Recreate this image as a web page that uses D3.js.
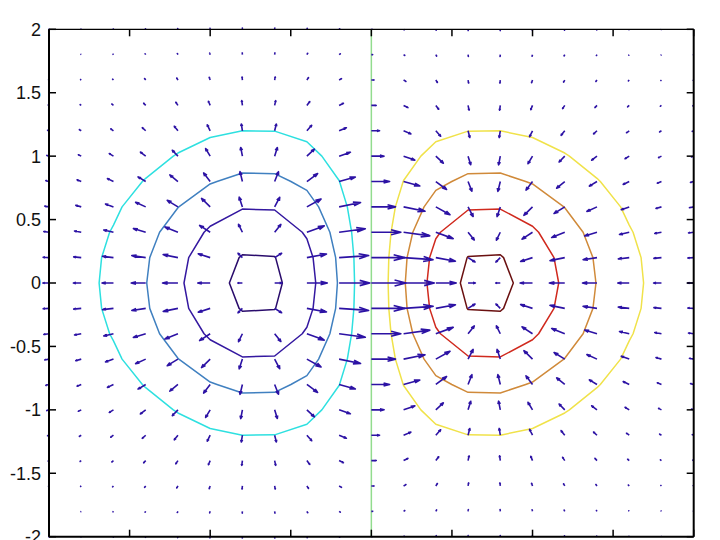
<!DOCTYPE html>
<html><head><meta charset="utf-8">
<script src="https://cdn.jsdelivr.net/npm/d3@7"></script>
<style>html,body{margin:0;padding:0;background:#fff;} svg{display:block}</style>
</head><body><svg id="c" width="720" height="540"></svg>
<script>
// grid coordinates
const gridX = [-2,-1.8,-1.6,-1.4,-1.2,-1,-0.8,-0.6,-0.4,-0.2,0,0.2,0.4,0.6,0.8,1,1.2,1.4,1.6,1.8,2];
const gridY = [-2,-1.8,-1.6,-1.4,-1.2,-1,-0.8,-0.6,-0.4,-0.2,0,0.2,0.4,0.6,0.8,1,1.2,1.4,1.6,1.8,2];
// surface values, one row per gridY value (bottom to top)
const zRows = [
[-.0007,-.0013,-.0023,-.0036,-.0052,-.0067,-.0077,-.0077,-.0062,-.0035,0,.0035,.0062,.0077,.0077,.0067,.0052,.0036,.0023,.0013,.0007],
[-.0014,-.0028,-.0048,-.0077,-.0111,-.0144,-.0165,-.0164,-.0133,-.0075,0,.0075,.0133,.0164,.0165,.0144,.0111,.0077,.0048,.0028,.0014],
[-.0028,-.0054,-.0096,-.0152,-.0220,-.0284,-.0326,-.0324,-.0263,-.0149,0,.0149,.0263,.0324,.0326,.0284,.0220,.0152,.0096,.0054,.0028],
[-.0052,-.0099,-.0174,-.0278,-.0400,-.0518,-.0594,-.0590,-.0480,-.0271,0,.0271,.0480,.0590,.0594,.0518,.0400,.0278,.0174,.0099,.0052],
[-.0087,-.0167,-.0293,-.0467,-.0674,-.0872,-.0999,-.0992,-.0808,-.0455,0,.0455,.0808,.0992,.0999,.0872,.0674,.0467,.0293,.0167,.0087],
[-.0135,-.0259,-.0455,-.0725,-.1046,-.1353,-.1552,-.1540,-.1254,-.0707,0,.0707,.1254,.1540,.1552,.1353,.1046,.0725,.0455,.0259,.0135],
[-.0193,-.0372,-.0652,-.1040,-.1499,-.1940,-.2224,-.2207,-.1797,-.1013,0,.1013,.1797,.2207,.2224,.1940,.1499,.1040,.0652,.0372,.0193],
[-.0256,-.0492,-.0863,-.1376,-.1984,-.2567,-.2943,-.2921,-.2378,-.1341,0,.1341,.2378,.2921,.2943,.2567,.1984,.1376,.0863,.0492,.0256],
[-.0312,-.0601,-.1054,-.1680,-.2423,-.3135,-.3595,-.3567,-.2905,-.1637,0,.1637,.2905,.3567,.3595,.3135,.2423,.1680,.1054,.0601,.0312],
[-.0352,-.0677,-.1188,-.1895,-.2732,-.3535,-.4053,-.4022,-.3275,-.1846,0,.1846,.3275,.4022,.4053,.3535,.2732,.1895,.1188,.0677,.0352],
[-.0366,-.0705,-.1237,-.1972,-.2843,-.3679,-.4218,-.4186,-.3409,-.1922,0,.1922,.3409,.4186,.4218,.3679,.2843,.1972,.1237,.0705,.0366],
[-.0352,-.0677,-.1188,-.1895,-.2732,-.3535,-.4053,-.4022,-.3275,-.1846,0,.1846,.3275,.4022,.4053,.3535,.2732,.1895,.1188,.0677,.0352],
[-.0312,-.0601,-.1054,-.1680,-.2423,-.3135,-.3595,-.3567,-.2905,-.1637,0,.1637,.2905,.3567,.3595,.3135,.2423,.1680,.1054,.0601,.0312],
[-.0256,-.0492,-.0863,-.1376,-.1984,-.2567,-.2943,-.2921,-.2378,-.1341,0,.1341,.2378,.2921,.2943,.2567,.1984,.1376,.0863,.0492,.0256],
[-.0193,-.0372,-.0652,-.1040,-.1499,-.1940,-.2224,-.2207,-.1797,-.1013,0,.1013,.1797,.2207,.2224,.1940,.1499,.1040,.0652,.0372,.0193],
[-.0135,-.0259,-.0455,-.0725,-.1046,-.1353,-.1552,-.1540,-.1254,-.0707,0,.0707,.1254,.1540,.1552,.1353,.1046,.0725,.0455,.0259,.0135],
[-.0087,-.0167,-.0293,-.0467,-.0674,-.0872,-.0999,-.0992,-.0808,-.0455,0,.0455,.0808,.0992,.0999,.0872,.0674,.0467,.0293,.0167,.0087],
[-.0052,-.0099,-.0174,-.0278,-.0400,-.0518,-.0594,-.0590,-.0480,-.0271,0,.0271,.0480,.0590,.0594,.0518,.0400,.0278,.0174,.0099,.0052],
[-.0028,-.0054,-.0096,-.0152,-.0220,-.0284,-.0326,-.0324,-.0263,-.0149,0,.0149,.0263,.0324,.0326,.0284,.0220,.0152,.0096,.0054,.0028],
[-.0014,-.0028,-.0048,-.0077,-.0111,-.0144,-.0165,-.0164,-.0133,-.0075,0,.0075,.0133,.0164,.0165,.0144,.0111,.0077,.0048,.0028,.0014],
[-.0007,-.0013,-.0023,-.0036,-.0052,-.0067,-.0077,-.0077,-.0062,-.0035,0,.0035,.0062,.0077,.0077,.0067,.0052,.0036,.0023,.0013,.0007]
];
const contourLevels = [-0.4,-0.3,-0.2,-0.1,0,0.1,0.2,0.3,0.4];
const contourColors = ['#2a0c6c','#3418a0','#4080c0','#2ee0e0','#92dc8e','#f0e24a','#d08a3a','#d02a1e','#6a1010'];
const xTicks = [-2,-1.5,-1,-0.5,0,0.5,1,1.5,2];
const yTicks = [-2,-1.5,-1,-0.5,0,0.5,1,1.5,2];
const yTickLabels = ['-2','-1.5','-1','-0.5','0','0.5','1','1.5','2'];

const L = 49, R = 693.7, T = 29.3, B = 536.7;
const x = d3.scaleLinear().domain([-2, 2]).range([L, R]);
const y = d3.scaleLinear().domain([-2, 2]).range([B, T]);
const svg = d3.select('#c');
svg.append('rect').attr('width', 720).attr('height', 540).attr('fill', '#fff');
svg.append('defs').append('clipPath').attr('id', 'clip')
  .append('rect').attr('x', L).attr('y', T).attr('width', R - L).attr('height', B - T);

const nx = gridX.length, ny = gridY.length;
const hx = (gridX[nx - 1] - gridX[0]) / (nx - 1);
const hy = (gridY[ny - 1] - gridY[0]) / (ny - 1);
const values = zRows.flat();

// contours
const contours = d3.contours().size([nx, ny]).thresholds(contourLevels)(values);
const proj = d3.geoTransform({
  point(px, py) {
    this.stream.point(x(gridX[0] + (px - 0.5) * hx), y(gridY[0] + (py - 0.5) * hy));
  }
});
const path = d3.geoPath(proj);
const plot = svg.append('g').attr('clip-path', 'url(#clip)');
plot.selectAll('path.contour').data(contours).join('path')
  .attr('class', 'contour')
  .attr('d', path)
  .attr('fill', 'none')
  .attr('stroke', (d, i) => contourColors[i])
  .attr('stroke-width', 1.5)
  .attr('stroke-linejoin', 'round');

// gradient (central differences, one-sided at edges)
const arrows = [];
let maxMag = 0;
for (let i = 0; i < ny; i++) {
  for (let j = 0; j < nx; j++) {
    const z = zRows;
    const gx = j === 0 ? (z[i][1] - z[i][0]) / hx
      : j === nx - 1 ? (z[i][nx - 1] - z[i][nx - 2]) / hx
      : (z[i][j + 1] - z[i][j - 1]) / (2 * hx);
    const gy = i === 0 ? (z[1][j] - z[0][j]) / hy
      : i === ny - 1 ? (z[ny - 1][j] - z[ny - 2][j]) / hy
      : (z[i + 1][j] - z[i - 1][j]) / (2 * hy);
    arrows.push({ X: gridX[j], Y: gridY[i], u: gx, v: gy });
    maxMag = Math.max(maxMag, Math.hypot(gx, gy));
  }
}
const maxLen = 0.215;
const s = maxLen / maxMag;
const alpha = 0.33, beta = 0.33;
const arrowPath = d => {
  const u = d.u * s, v = d.v * s;
  const tx = d.X + u, ty = d.Y + v;
  const h1x = tx - alpha * (u + beta * v), h1y = ty - alpha * (v - beta * u);
  const h2x = tx - alpha * (u - beta * v), h2y = ty - alpha * (v + beta * u);
  return `M${x(d.X)},${y(d.Y)}L${x(tx)},${y(ty)}M${x(h1x)},${y(h1y)}L${x(tx)},${y(ty)}L${x(h2x)},${y(h2y)}`;
};
svg.append('g').selectAll('path').data(arrows).join('path')
  .attr('d', arrowPath)
  .attr('fill', 'none')
  .attr('stroke', '#2c12a4')
  .attr('stroke-width', 1.6)
  .attr('stroke-linejoin', 'round');

// axes box and ticks
const ax = svg.append('g').attr('stroke', '#000').attr('fill', 'none');
const tl = 7;
xTicks.forEach(t => {
  ax.append('line').attr('x1', x(t)).attr('x2', x(t)).attr('y1', B).attr('y2', B - tl).attr('stroke-width', 1.5);
  ax.append('line').attr('x1', x(t)).attr('x2', x(t)).attr('y1', T).attr('y2', T + tl).attr('stroke-width', 1.5);
});
yTicks.forEach(t => {
  ax.append('line').attr('x1', L).attr('x2', L + tl).attr('y1', y(t)).attr('y2', y(t)).attr('stroke-width', 1.5);
  ax.append('line').attr('x1', R).attr('x2', R - tl).attr('y1', y(t)).attr('y2', y(t)).attr('stroke-width', 1.5);
});
ax.append('line').attr('x1', L).attr('x2', R).attr('y1', T).attr('y2', T).attr('stroke-width', 1.2);
ax.append('line').attr('x1', L).attr('x2', R).attr('y1', B).attr('y2', B).attr('stroke-width', 2);
ax.append('line').attr('x1', L).attr('x2', L).attr('y1', T).attr('y2', B).attr('stroke-width', 2);
ax.append('line').attr('x1', R).attr('x2', R).attr('y1', T).attr('y2', B).attr('stroke-width', 2);

svg.append('g').selectAll('text').data(yTicks).join('text')
  .attr('x', L - 8)
  .attr('y', d => y(d))
  .attr('dy', '0.36em')
  .attr('text-anchor', 'end')
  .attr('font-family', '"Liberation Sans", Arial, sans-serif')
  .attr('font-size', 18)
  .attr('fill', '#111')
  .text((d, i) => yTickLabels[i]);
</script>
</body></html>
